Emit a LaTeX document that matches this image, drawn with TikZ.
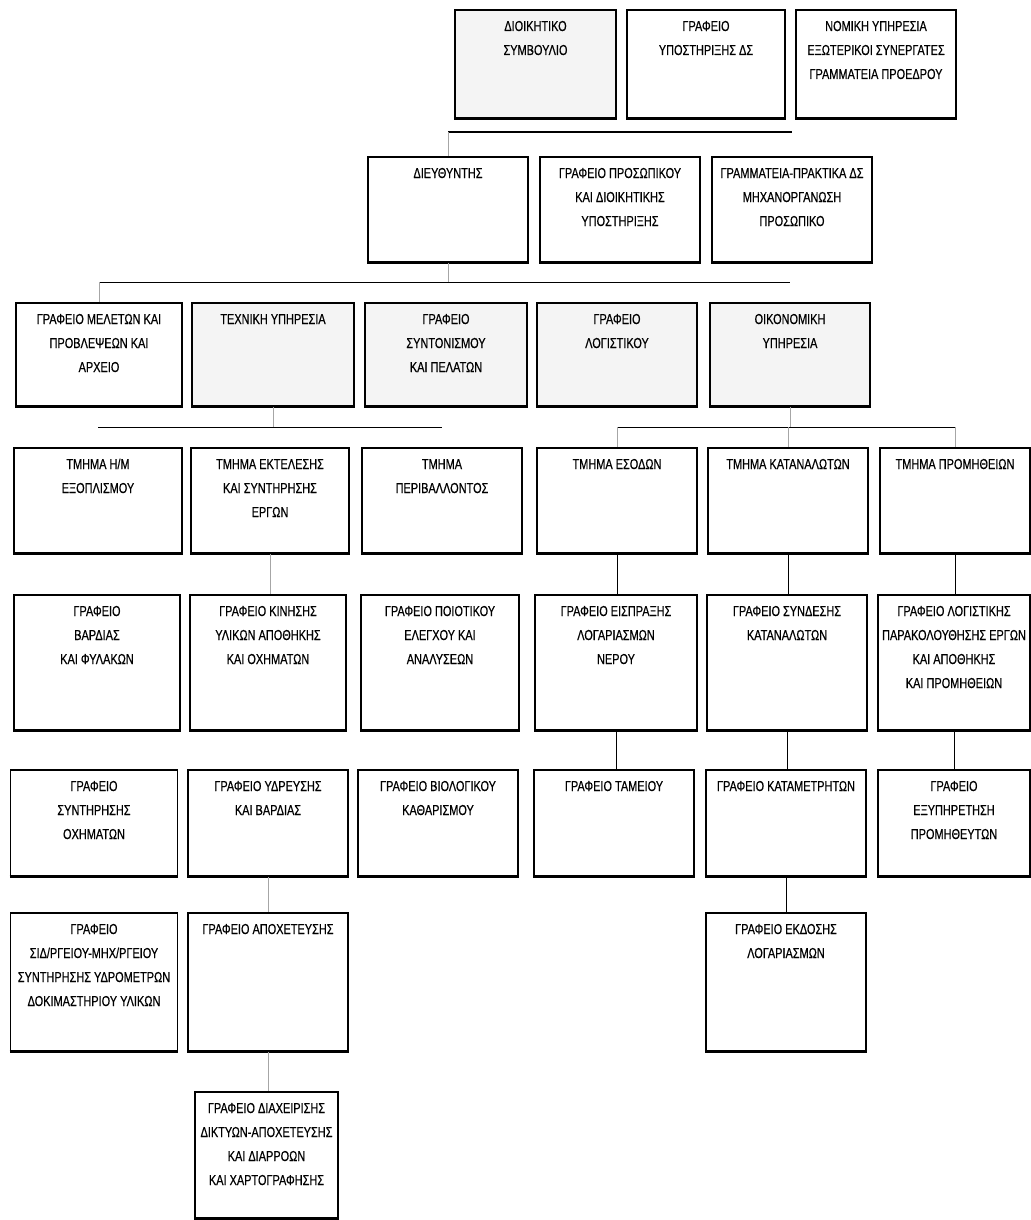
\documentclass[tikz,border=0pt]{standalone}
\usepackage{fontspec}
\setmainfont{Liberation Sans}[FakeStretch=0.76, FakeBold=0.5]
\usepackage{tikz}
\usetikzlibrary{calc}
\definecolor{scantint}{RGB}{244,244,244}
\newlength{\px}
\setlength{\px}{0.5pt}
% box text: width, height (in px), lines
\newcommand{\orgtext}[3]{\parbox[c][#2\px][t]{#1\px}{\centering\fontsize{7.2}{12}\selectfont\rule{0pt}{10.5pt}#3\par}}

\begin{document}
\begin{tikzpicture}[x=0.5pt,y=-0.5pt,
	unitbox/.style={draw, line width=0.8pt, fill=white, inner sep=0pt},
	tinted/.style={fill=scantint},
	bus/.style={line width=0.7pt},
	drop/.style={line width=0.5pt, black!35},
	link/.style={line width=0.5pt}]
	\fill[white] (0,0) rectangle (1031,1220);
	\useasboundingbox (0,0) rectangle (1031,1220);

	% board
	\node[unitbox,tinted] (ds) at (535.5,64) {\orgtext{161}{108}{ΔΙΟΙΚΗΤΙΚΟ\\ΣΥΜΒΟΥΛΙΟ}};
	\node[unitbox] (ypds) at (706,64) {\orgtext{158}{108}{ΓΡΑΦΕΙΟ\\ΥΠΟΣΤΗΡΙΞΗΣ ΔΣ}};
	\node[unitbox] (nomiki) at (876,64) {\orgtext{160}{108}{ΝΟΜΙΚΗ ΥΠΗΡΕΣΙΑ\\ΕΞΩΤΕΡΙΚΟΙ ΣΥΝΕΡΓΑΤΕΣ\\ΓΡΑΜΜΑΤΕΙΑ ΠΡΟΕΔΡΟΥ}};

	% director
	\node[unitbox] (dir) at (448,209.5) {\orgtext{160}{105}{ΔΙΕΥΘΥΝΤΗΣ}};
	\node[unitbox] (prosop) at (620,209.5) {\orgtext{160}{105}{ΓΡΑΦΕΙΟ ΠΡΟΣΩΠΙΚΟΥ\\ΚΑΙ ΔΙΟΙΚΗΤΙΚΗΣ\\ΥΠΟΣΤΗΡΙΞΗΣ}};
	\node[unitbox] (gramm) at (792,209.5) {\orgtext{160}{105}{ΓΡΑΜΜΑΤΕΙΑ-ΠΡΑΚΤΙΚΑ ΔΣ\\ΜΗΧΑΝΟΡΓΑΝΩΣΗ\\ΠΡΟΣΩΠΙΚΟ}};

	% services
	\node[unitbox] (meletes) at (99,354.5) {\orgtext{166}{103}{ΓΡΑΦΕΙΟ ΜΕΛΕΤΩΝ ΚΑΙ\\ΠΡΟΒΛΕΨΕΩΝ ΚΑΙ\\ΑΡΧΕΙΟ}};
	\node[unitbox,tinted] (texniki) at (273,354.5) {\orgtext{162}{103}{ΤΕΧΝΙΚΗ ΥΠΗΡΕΣΙΑ}};
	\node[unitbox,tinted] (syntonismos) at (446,354.5) {\orgtext{162}{103}{ΓΡΑΦΕΙΟ\\ΣΥΝΤΟΝΙΣΜΟΥ\\ΚΑΙ ΠΕΛΑΤΩΝ}};
	\node[unitbox,tinted] (logistiko) at (617,354.5) {\orgtext{160}{103}{ΓΡΑΦΕΙΟ\\ΛΟΓΙΣΤΙΚΟΥ}};
	\node[unitbox,tinted] (oikon) at (790,354.5) {\orgtext{160}{103}{ΟΙΚΟΝΟΜΙΚΗ\\ΥΠΗΡΕΣΙΑ}};

	% departments
	\node[unitbox] (hm) at (98,500.5) {\orgtext{168}{105}{ΤΜΗΜΑ Η/Μ\\ΕΞΟΠΛΙΣΜΟΥ}};
	\node[unitbox] (ektel) at (270,500.5) {\orgtext{158}{105}{ΤΜΗΜΑ ΕΚΤΕΛΕΣΗΣ\\ΚΑΙ ΣΥΝΤΗΡΗΣΗΣ\\ΕΡΓΩΝ}};
	\node[unitbox] (perib) at (442,500.5) {\orgtext{160}{105}{ΤΜΗΜΑ\\ΠΕΡΙΒΑΛΛΟΝΤΟΣ}};
	\node[unitbox] (esod) at (617,500.5) {\orgtext{160}{105}{ΤΜΗΜΑ ΕΣΟΔΩΝ}};
	\node[unitbox] (katan) at (788,500.5) {\orgtext{160}{105}{ΤΜΗΜΑ ΚΑΤΑΝΑΛΩΤΩΝ}};
	\node[unitbox] (prom) at (955,500.5) {\orgtext{150}{105}{ΤΜΗΜΑ ΠΡΟΜΗΘΕΙΩΝ}};

	% offices
	\node[unitbox] (vardia) at (97,662.5) {\orgtext{166}{135}{ΓΡΑΦΕΙΟ\\ΒΑΡΔΙΑΣ\\ΚΑΙ ΦΥΛΑΚΩΝ}};
	\node[unitbox] (kinisi) at (268,662.5) {\orgtext{156}{135}{ΓΡΑΦΕΙΟ ΚΙΝΗΣΗΣ\\ΥΛΙΚΩΝ ΑΠΟΘΗΚΗΣ\\ΚΑΙ ΟΧΗΜΑΤΩΝ}};
	\node[unitbox] (poiotiko) at (440,662.5) {\orgtext{158}{135}{ΓΡΑΦΕΙΟ ΠΟΙΟΤΙΚΟΥ\\ΕΛΕΓΧΟΥ ΚΑΙ\\ΑΝΑΛΥΣΕΩΝ}};
	\node[unitbox] (eispraxi) at (616,662.5) {\orgtext{162}{135}{ΓΡΑΦΕΙΟ ΕΙΣΠΡΑΞΗΣ\\ΛΟΓΑΡΙΑΣΜΩΝ\\ΝΕΡΟΥ}};
	\node[unitbox] (syndesi) at (787,662.5) {\orgtext{160}{135}{ΓΡΑΦΕΙΟ ΣΥΝΔΕΣΗΣ\\ΚΑΤΑΝΑΛΩΤΩΝ}};
	\node[unitbox] (logistiki) at (954,662.5) {\orgtext{152}{135}{ΓΡΑΦΕΙΟ ΛΟΓΙΣΤΙΚΗΣ\\ΠΑΡΑΚΟΛΟΥΘΗΣΗΣ ΕΡΓΩΝ\\ΚΑΙ ΑΠΟΘΗΚΗΣ\\ΚΑΙ ΠΡΟΜΗΘΕΙΩΝ}};

	\node[unitbox] (syntirisi) at (94,823) {\orgtext{167}{106}{ΓΡΑΦΕΙΟ\\ΣΥΝΤΗΡΗΣΗΣ\\ΟΧΗΜΑΤΩΝ}};
	\node[unitbox] (ydreusi) at (268,823) {\orgtext{160}{106}{ΓΡΑΦΕΙΟ ΥΔΡΕΥΣΗΣ\\ΚΑΙ ΒΑΡΔΙΑΣ}};
	\node[unitbox] (viologiko) at (438,823) {\orgtext{160}{106}{ΓΡΑΦΕΙΟ ΒΙΟΛΟΓΙΚΟΥ\\ΚΑΘΑΡΙΣΜΟΥ}};
	\node[unitbox] (tameio) at (614,823) {\orgtext{160}{106}{ΓΡΑΦΕΙΟ ΤΑΜΕΙΟΥ}};
	\node[unitbox] (katametr) at (786,823) {\orgtext{160}{106}{ΓΡΑΦΕΙΟ ΚΑΤΑΜΕΤΡΗΤΩΝ}};
	\node[unitbox] (exyp) at (954,823) {\orgtext{152}{106}{ΓΡΑΦΕΙΟ\\ΕΞΥΠΗΡΕΤΗΣΗ\\ΠΡΟΜΗΘΕΥΤΩΝ}};

	\node[unitbox] (sidir) at (94,982) {\orgtext{167}{138}{ΓΡΑΦΕΙΟ\\ΣΙΔ/ΡΓΕΙΟΥ-ΜΗΧ/ΡΓΕΙΟΥ\\ΣΥΝΤΗΡΗΣΗΣ ΥΔΡΟΜΕΤΡΩΝ\\ΔΟΚΙΜΑΣΤΗΡΙΟΥ ΥΛΙΚΩΝ}};
	\node[unitbox] (apoxet) at (268,982) {\orgtext{160}{138}{ΓΡΑΦΕΙΟ ΑΠΟΧΕΤΕΥΣΗΣ}};
	\node[unitbox] (ekdosi) at (786,982) {\orgtext{160}{138}{ΓΡΑΦΕΙΟ ΕΚΔΟΣΗΣ\\ΛΟΓΑΡΙΑΣΜΩΝ}};

	\node[unitbox] (diax) at (266.5,1155) {\orgtext{143}{126}{ΓΡΑΦΕΙΟ ΔΙΑΧΕΙΡΙΣΗΣ\\ΔΙΚΤΥΩΝ-ΑΠΟΧΕΤΕΥΣΗΣ\\ΚΑΙ ΔΙΑΡΡΟΩΝ\\ΚΑΙ ΧΑΡΤΟΓΡΑΦΗΣΗΣ}};

	% heavy bottom edges
	\foreach \n in {ds,ypds,nomiki,dir,prosop,gramm,meletes,texniki,syntonismos,logistiko,oikon,
		hm,ektel,perib,esod,katan,prom,vardia,kinisi,poiotiko,eispraxi,syndesi,logistiki,
		syntirisi,ydreusi,viologiko,tameio,katametr,exyp,sidir,apoxet,ekdosi,diax}
		\draw[line width=1.6pt] (\n.south west) -- (\n.south east);

	% bus lines
	\coordinate (bus1) at ([yshift=12pt]dir.north);
	\coordinate (bus2) at ([yshift=10pt]meletes.north);
	\coordinate (bus3l) at ([yshift=10pt]hm.north);
	\coordinate (bus3r) at ([yshift=10pt]esod.north);
	\draw[bus] (bus1) -- (bus1 -| gramm.north);
	\draw[bus] (bus2) -- (bus2 -| oikon.north);
	\draw[bus] (bus3l) -- (bus3l -| perib.north);
	\draw[bus] (bus3r) -- (bus3r -| prom.north);
	\draw[drop] (dir.north) -- (bus1);
	\draw[drop] (dir.south) -- (dir.south |- bus2);
	\draw[drop] (meletes.north) -- (bus2);
	\draw[drop] (texniki.south) -- (texniki.south |- bus3l);
	\draw[drop] (oikon.south) -- (oikon.south |- bus3r);
	\foreach \n in {esod,katan,prom}
		\draw[drop] (\n.north) -- (\n.north |- bus3r);

	% chains
	\draw[link] (esod.south) -- (esod.south |- eispraxi.north);
	\draw[link] (eispraxi.south) -- (eispraxi.south |- tameio.north);
	\draw[link] (katan.south) -- (katan.south |- syndesi.north);
	\draw[link] (syndesi.south) -- (syndesi.south |- katametr.north);
	\draw[link] (katametr.south) -- (katametr.south |- ekdosi.north);
	\draw[link] (prom.south) -- (prom.south |- logistiki.north);
	\draw[link] (logistiki.south) -- (logistiki.south |- exyp.north);
	\draw[drop] (ektel.south) -- (ektel.south |- kinisi.north);
	\draw[drop] (ydreusi.south) -- (ydreusi.south |- apoxet.north);
	\draw[drop] (apoxet.south) -- (apoxet.south |- diax.north);
\end{tikzpicture}
\end{document}
